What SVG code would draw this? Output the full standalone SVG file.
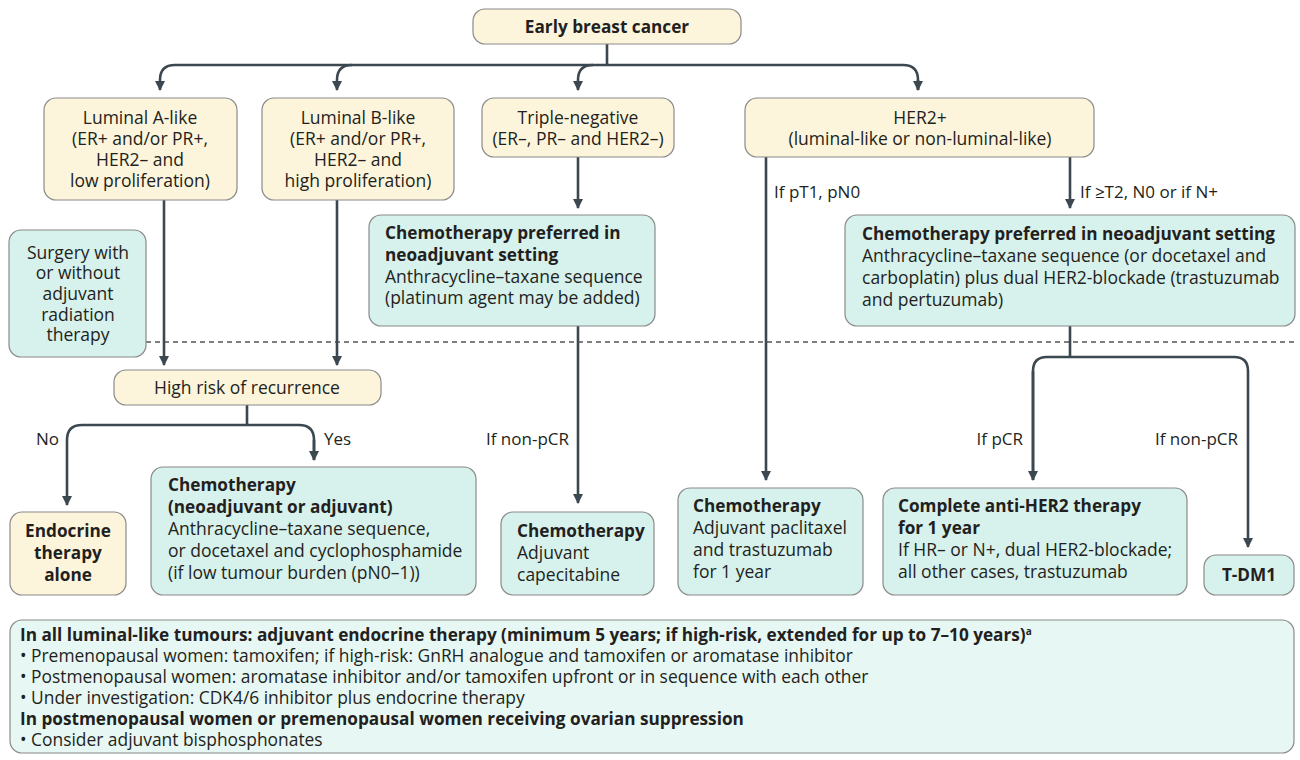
<svg xmlns="http://www.w3.org/2000/svg" width="1300" height="760" viewBox="0 0 1300 760">
<defs>
<style>
.y{fill:#fcf5dc;stroke:#8a8a8a;stroke-width:1.2}
.g{fill:#d7f1ec;stroke:#8a8a8a;stroke-width:1.2}
.gb{fill:#e7f7f3;stroke:#8a8a8a;stroke-width:1.2}
text{font-family:"Open Sans","Liberation Sans",sans-serif;font-size:17.5px;fill:#231f20}
.b{font-weight:bold;font-size:17.2px}
.c{text-anchor:middle}
.r{text-anchor:end}
.s{font-size:17.4px}
.sb{font-size:17.2px;font-weight:bold}
.lbl{font-size:17px}
.cn{fill:none;stroke:#3b4850;stroke-width:2.6}
.dash{fill:none;stroke:#555;stroke-width:1.4;stroke-dasharray:5 4}
</style>
<marker id="ah" viewBox="0 0 10 10" refX="9" refY="5" markerWidth="4" markerHeight="4" markerUnits="strokeWidth" orient="auto">
<path d="M0,0 L10,5 L0,10 z" fill="#3b4850"/>
</marker>
</defs>
<rect width="1300" height="760" fill="#ffffff"/>

<line class="dash" x1="146" y1="342" x2="1298" y2="342"/>

<g id="connectors">
<path class="cn" d="M607,44 V65"/>
<path class="cn" d="M918,90 V80 Q918,65 903,65 H175 Q160,65 160,80 V90" marker-end="url(#ah)"/>
<path class="cn" d="M918,80 V90" marker-end="url(#ah)"/>
<path class="cn" d="M352,65 Q337,65 337,80 V90" marker-end="url(#ah)"/>
<path class="cn" d="M593,65 Q578,65 578,80 V90" marker-end="url(#ah)"/>
<path class="cn" d="M164,200 V365" marker-end="url(#ah)"/>
<path class="cn" d="M337,200 V365" marker-end="url(#ah)"/>
<path class="cn" d="M578,157 V208" marker-end="url(#ah)"/>
<path class="cn" d="M578,326 V503" marker-end="url(#ah)"/>
<path class="cn" d="M766,157 V480" marker-end="url(#ah)"/>
<path class="cn" d="M1070,157 V208" marker-end="url(#ah)"/>
<path class="cn" d="M247,405 V425"/>
<path class="cn" d="M314,460 V440 Q314,425 299,425 H82 Q67,425 67,440 V505" marker-end="url(#ah)"/>
<path class="cn" d="M314,440 V460" marker-end="url(#ah)"/>
<path class="cn" d="M1070,326 V357"/>
<path class="cn" d="M1033,480 V371 Q1033,357 1047,357 H1234 Q1248,357 1248,371 V547" marker-end="url(#ah)"/>
<path class="cn" d="M1033,371 V480" marker-end="url(#ah)"/>
<text class="lbl" x="774" y="198">If pT1, pN0</text>
<text class="lbl" x="1080" y="198">If ≥T2, N0 or if N+</text>
<text class="lbl" x="36" y="445">No</text>
<text class="lbl" x="324" y="445">Yes</text>
<text class="lbl r" x="569" y="445">If non-pCR</text>
<text class="lbl r" x="1023" y="445">If pCR</text>
<text class="lbl r" x="1238" y="445">If non-pCR</text>
</g>

<g id="early">
<rect class="y" x="473" y="9" width="268" height="35" rx="12"/>
<text class="b c" x="607" y="33">Early breast cancer</text>
</g>

<g id="luminalA">
<rect class="y" x="44" y="98" width="193" height="102" rx="12"/>
<text class="c" x="140" y="124">Luminal A-like</text>
<text class="c" x="140" y="145">(ER+ and/or PR+,</text>
<text class="c" x="140" y="166">HER2–  and</text>
<text class="c" x="140" y="187">low proliferation)</text>
</g>

<g id="luminalB">
<rect class="y" x="262" y="98" width="192" height="102" rx="12"/>
<text class="c" x="358" y="124">Luminal B-like</text>
<text class="c" x="358" y="145">(ER+ and/or PR+,</text>
<text class="c" x="358" y="166">HER2– and</text>
<text class="c" x="358" y="187">high proliferation)</text>
</g>

<g id="tripleneg">
<rect class="y" x="482" y="98" width="192" height="59" rx="12"/>
<text class="c" x="578" y="124">Triple-negative</text>
<text class="c" x="578" y="145">(ER–, PR– and HER2–)</text>
</g>

<g id="her2">
<rect class="y" x="745" y="98" width="349" height="59" rx="12"/>
<text class="c" x="920" y="124">HER2+</text>
<text class="c" x="920" y="145">(luminal-like or non-luminal-like)</text>
</g>

<g id="surgery">
<rect class="g" x="9" y="230" width="137" height="127" rx="12"/>
<text class="c" x="78" y="259">Surgery with</text>
<text class="c" x="78" y="279">or without</text>
<text class="c" x="78" y="300">adjuvant</text>
<text class="c" x="78" y="321">radiation</text>
<text class="c" x="78" y="341">therapy</text>
</g>

<g id="chemoTN">
<rect class="g" x="369" y="215" width="286" height="111" rx="12"/>
<text class="b" x="385" y="239">Chemotherapy preferred in</text>
<text class="b" x="385" y="261">neoadjuvant setting</text>
<text x="385" y="283">Anthracycline–taxane sequence</text>
<text x="385" y="304">(platinum agent may be added)</text>
</g>

<g id="chemoHER2">
<rect class="g" x="845" y="215" width="450" height="111" rx="12"/>
<text class="b" x="862" y="240">Chemotherapy preferred in neoadjuvant setting</text>
<text x="862" y="262">Anthracycline–taxane sequence (or docetaxel and</text>
<text x="862" y="284">carboplatin) plus dual HER2-blockade (trastuzumab</text>
<text x="862" y="306">and pertuzumab)</text>
</g>

<g id="highrisk">
<rect class="y" x="114" y="370" width="267" height="35" rx="12"/>
<text class="c" x="247" y="394">High risk of recurrence</text>
</g>

<g id="endocrine">
<rect class="y" x="10" y="512" width="116" height="83" rx="12"/>
<text class="b c" x="68" y="537">Endocrine</text>
<text class="b c" x="68" y="559">therapy</text>
<text class="b c" x="68" y="581">alone</text>
</g>

<g id="chemo2">
<rect class="g" x="151" y="467" width="325" height="128" rx="12"/>
<text class="b" x="168" y="491">Chemotherapy</text>
<text class="b" x="168" y="513">(neoadjuvant or adjuvant)</text>
<text x="168" y="535">Anthracycline–taxane sequence,</text>
<text x="168" y="557">or docetaxel and cyclophosphamide</text>
<text x="168" y="579">(if low tumour burden (pN0–1))</text>
</g>

<g id="capecitabine">
<rect class="g" x="501" y="512" width="153" height="83" rx="12"/>
<text class="b" x="517" y="537">Chemotherapy</text>
<text x="517" y="559">Adjuvant</text>
<text x="517" y="581">capecitabine</text>
</g>

<g id="paclitaxel">
<rect class="g" x="678" y="488" width="185" height="107" rx="12"/>
<text class="b" x="693" y="512">Chemotherapy</text>
<text x="693" y="534">Adjuvant paclitaxel</text>
<text x="693" y="556">and trastuzumab</text>
<text x="693" y="578">for 1 year</text>
</g>

<g id="antiher2">
<rect class="g" x="883" y="488" width="304" height="107" rx="12"/>
<text class="b" x="898" y="512">Complete anti-HER2 therapy</text>
<text class="b" x="898" y="534">for 1 year</text>
<text x="898" y="556">If HR– or N+, dual HER2-blockade;</text>
<text x="898" y="578">all other cases, trastuzumab</text>
</g>

<g id="tdm1">
<rect class="g" x="1204" y="555" width="90" height="40" rx="12"/>
<text class="b c" x="1249" y="581">T-DM1</text>
</g>

<g id="endocrineNote">
<rect class="gb" x="10" y="620" width="1284" height="133" rx="12"/>
<text class="sb" x="20" y="641">In all luminal-like tumours: adjuvant endocrine therapy (minimum 5 years; if high-risk, extended for up to 7–10 years)<tspan font-size="10" dy="-6">a</tspan></text>
<text class="s" x="20" y="662">• Premenopausal women: tamoxifen; if high-risk: GnRH analogue and tamoxifen or aromatase inhibitor</text>
<text class="s" x="20" y="683">• Postmenopausal women: aromatase inhibitor and/or tamoxifen upfront or in sequence with each other</text>
<text class="s" x="20" y="704">• Under investigation: CDK4/6 inhibitor plus endocrine therapy</text>
<text class="sb" x="20" y="725">In postmenopausal women or premenopausal women receiving ovarian suppression</text>
<text class="s" x="20" y="746">• Consider adjuvant bisphosphonates</text>
</g>
</svg>
